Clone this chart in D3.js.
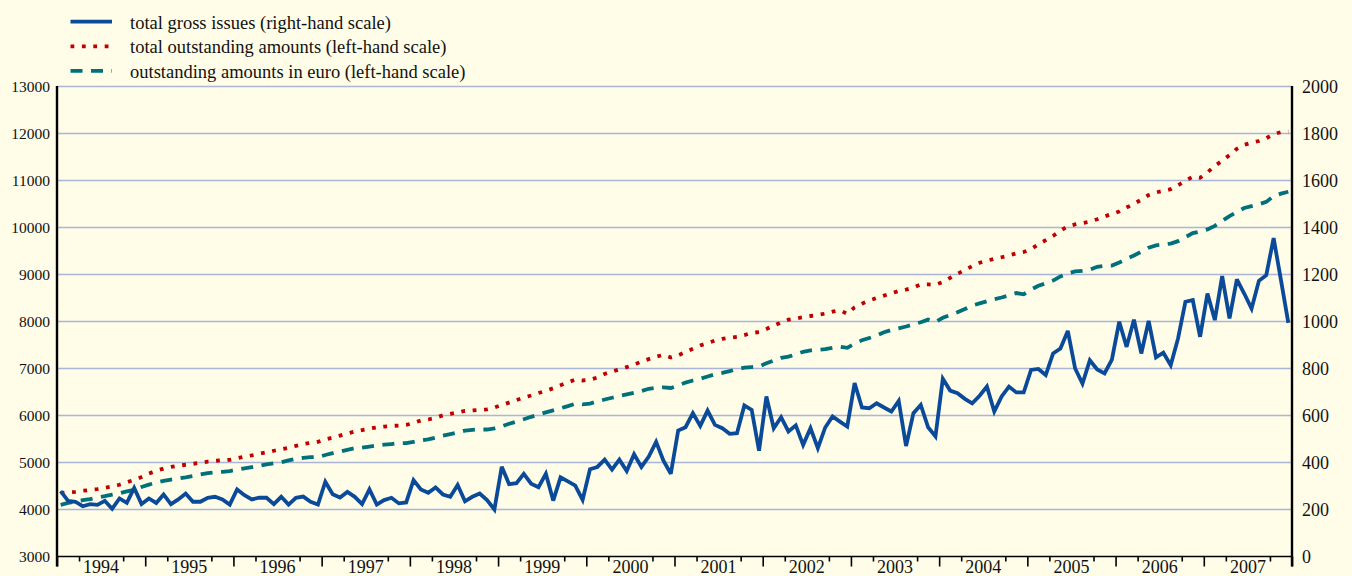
<!DOCTYPE html>
<html>
<head>
<meta charset="utf-8">
<script src="https://cdn.jsdelivr.net/npm/d3@7"></script>
<style>
  html, body { margin: 0; padding: 0; background: #FFFDE8; }
  svg { display: block; }
  text { font-family: "Liberation Serif", "Times New Roman", serif; fill: #111; }
</style>
</head>
<body>
<svg id="chart" width="1352" height="576"></svg>
<script>
// Year labels along the time axis (monthly observations, Jan 1994 - Dec 2007)
const years = [1994, 1995, 1996, 1997, 1998, 1999, 2000, 2001, 2002, 2003, 2004, 2005, 2006, 2007];
const leftTicks = [3000, 4000, 5000, 6000, 7000, 8000, 9000, 10000, 11000, 12000, 13000];
const rightTicks = [0, 200, 400, 600, 800, 1000, 1200, 1400, 1600, 1800, 2000];

// total gross issues (right-hand scale), one value per month
const grossIssues = [
  278, 237, 233, 214, 223, 220, 237, 203, 247, 228, 292, 223,
  247, 228, 264, 223, 243, 268, 233, 233, 250, 254, 243, 221,
  285, 261, 243, 250, 250, 223, 254, 221, 250, 255, 233, 221,
  318, 265, 251, 275, 254, 223, 286, 221, 240, 250, 226, 230,
  325, 285, 271, 294, 264, 254, 304, 235, 254, 268, 240, 200,
  382, 308, 312, 352, 310, 295, 352, 238, 337, 320, 302, 241,
  371, 381, 412, 370, 412, 364, 435, 381, 425, 488, 408, 352,
  536, 550, 610, 556, 621, 560, 546, 522, 525, 643, 624, 450,
  681, 546, 593, 532, 558, 475, 546, 461, 549, 596, 574, 553,
  738, 634, 631, 652, 634, 617, 662, 470, 610, 645, 550, 511,
  756, 706, 695, 671, 652, 684, 723, 617, 681, 723, 698, 698,
  794, 798, 772, 864, 885, 960, 800, 736, 835, 796, 779, 838,
  999, 892, 1008, 864, 1003, 847, 867, 814, 928, 1084, 1091, 935,
  1119, 1006, 1193, 1013, 1179, 1119, 1055, 1173, 1197, 1355, 1176, 994
];

// total outstanding amounts (left-hand scale)
const totalOutstanding = [
  4350, 4365, 4375, 4398, 4415, 4433, 4462, 4490, 4527, 4580, 4628, 4690,
  4765, 4825, 4870, 4905, 4930, 4952, 4972, 4995, 5021, 5036, 5047, 5057,
  5090, 5125, 5152, 5185, 5216, 5250, 5280, 5312, 5355, 5392, 5420, 5440,
  5490, 5530, 5573, 5618, 5658, 5690, 5720, 5747, 5765, 5778, 5787, 5800,
  5840, 5894, 5915, 5950, 6005, 6035, 6065, 6098, 6108, 6120, 6132, 6170,
  6225, 6275, 6328, 6380, 6425, 6478, 6525, 6580, 6645, 6705, 6762, 6745,
  6762, 6809, 6885, 6935, 6980, 7030, 7080, 7150, 7200, 7250, 7290, 7235,
  7280, 7350, 7420, 7490, 7540, 7595, 7630, 7655, 7672, 7710, 7758, 7775,
  7840, 7915, 7980, 8040, 8065, 8093, 8117, 8140, 8168, 8210, 8240, 8163,
  8300, 8380, 8445, 8500, 8550, 8600, 8650, 8680, 8720, 8787, 8790, 8780,
  8840, 8930, 9015, 9095, 9180, 9250, 9295, 9334, 9367, 9405, 9450, 9478,
  9540, 9640, 9730, 9820, 9930, 10025, 10065, 10095, 10125, 10175, 10235, 10290,
  10340, 10425, 10505, 10590, 10690, 10745, 10780, 10815, 10900, 10995, 11080, 11060,
  11170, 11310, 11420, 11540, 11675, 11760, 11805, 11840, 11900, 11985, 12030, 12045
];

// outstanding amounts in euro (left-hand scale)
const euroOutstanding = [
  4100, 4140, 4170, 4197, 4222, 4255, 4283, 4315, 4345, 4385, 4420, 4480,
  4530, 4570, 4610, 4638, 4660, 4685, 4715, 4745, 4775, 4792, 4800, 4818,
  4848, 4873, 4900, 4930, 4960, 4985, 5005, 5045, 5080, 5100, 5113, 5113,
  5160, 5198, 5230, 5270, 5305, 5315, 5340, 5362, 5378, 5393, 5411, 5411,
  5440, 5468, 5492, 5530, 5572, 5605, 5638, 5678, 5695, 5702, 5702, 5725,
  5770, 5825, 5870, 5920, 5972, 6020, 6065, 6110, 6155, 6200, 6250, 6235,
  6255, 6298, 6340, 6378, 6418, 6450, 6482, 6520, 6568, 6590, 6598, 6585,
  6640, 6700, 6745, 6780, 6830, 6875, 6908, 6945, 6985, 7018, 7030, 7045,
  7110, 7170, 7225, 7252, 7300, 7355, 7384, 7398, 7412, 7442, 7465, 7440,
  7530, 7600, 7650, 7700, 7770, 7820, 7855, 7894, 7940, 7985, 8040, 7990,
  8080, 8135, 8195, 8265, 8340, 8385, 8430, 8475, 8510, 8555, 8605, 8578,
  8680, 8760, 8810, 8870, 8960, 9025, 9065, 9078, 9100, 9165, 9185, 9190,
  9255, 9330, 9405, 9485, 9570, 9620, 9638, 9658, 9710, 9794, 9880, 9915,
  9960, 10035, 10140, 10240, 10330, 10415, 10455, 10495, 10545, 10670, 10720, 10760
];

const legendItems = [
  { label: "total gross issues (right-hand scale)", color: "#0A4A99", width: 3.8, dash: null },
  { label: "total outstanding amounts (left-hand scale)", color: "#C00000", width: 3.8, dash: "3.8,7.6" },
  { label: "outstanding amounts in euro (left-hand scale)", color: "#00707A", width: 3.8, dash: "12,8.5" }
];

const svg = d3.select("#chart");
const W = 1352, H = 576;
const plotLeft = 57, plotRight = 1292, plotTop = 86.5, plotBottom = 556.5;

svg.append("rect").attr("width", W).attr("height", H).attr("fill", "#FFFDE8");

const nMonths = years.length * 12;
const x = d3.scaleLinear().domain([0, nMonths]).range([plotLeft, plotRight]);
const yL = d3.scaleLinear().domain([3000, 13000]).range([plotBottom, plotTop]);
const yR = d3.scaleLinear().domain([0, 2000]).range([plotBottom, plotTop]);

// horizontal grid lines
svg.append("g")
  .selectAll("line")
  .data(leftTicks.slice(1))
  .join("line")
  .attr("x1", plotLeft).attr("x2", plotRight)
  .attr("y1", d => yL(d)).attr("y2", d => yL(d))
  .attr("stroke", "#AAB5D8").attr("stroke-width", 1.3);

// left axis labels
const axL = svg.append("g")
  .attr("transform", `translate(${plotLeft},0)`)
  .call(d3.axisLeft(yL).tickValues(leftTicks).tickSize(0).tickPadding(7).tickFormat(d3.format("d")));
axL.select(".domain").remove();
axL.selectAll("text").attr("font-size", 15.5).attr("font-family", "Liberation Serif").attr("fill", "#111");

// right axis labels
const axR = svg.append("g")
  .attr("transform", `translate(${plotRight},0)`)
  .call(d3.axisRight(yR).tickValues(rightTicks).tickSize(0).tickPadding(10).tickFormat(d3.format("d")));
axR.select(".domain").remove();
axR.selectAll("text").attr("font-size", 18).attr("font-family", "Liberation Serif").attr("fill", "#111");

// bottom axis: long ticks at year boundaries, short ticks at quarters
const yearBounds = d3.range(0, nMonths + 1, 12);
const quarterTicks = yearBounds.slice(0, -1).flatMap(m => [m + 3, m + 9]);
const axB = svg.append("g").attr("transform", `translate(0,${plotBottom})`);
axB.call(d3.axisBottom(x).tickValues(yearBounds).tickSize(10).tickFormat(""));
axB.selectAll(".tick line").attr("stroke", "#000").attr("stroke-width", 1.6);
axB.select(".domain").remove();
const axQ = svg.append("g").attr("transform", `translate(0,${plotBottom})`);
axQ.call(d3.axisBottom(x).tickValues(quarterTicks).tickSize(5).tickFormat(""));
axQ.selectAll(".tick line").attr("stroke", "#000").attr("stroke-width", 1.6);
axQ.select(".domain").remove();

// year labels centred in each year
svg.append("g")
  .selectAll("text")
  .data(years)
  .join("text")
  .attr("x", (d, i) => x(i * 12 + 6))
  .attr("y", 572.5)
  .attr("text-anchor", "middle")
  .attr("font-size", 18)
  .text(d => d);

// axis lines
svg.append("line").attr("x1", plotLeft - 1).attr("x2", plotRight + 1).attr("y1", plotBottom).attr("y2", plotBottom)
  .attr("stroke", "#000").attr("stroke-width", 1.6);
svg.append("line").attr("x1", plotLeft).attr("x2", plotLeft).attr("y1", plotTop - 0.5).attr("y2", plotBottom + 10)
  .attr("stroke", "#000").attr("stroke-width", 2.4);
svg.append("line").attr("x1", plotRight).attr("x2", plotRight).attr("y1", plotTop - 0.5).attr("y2", plotBottom + 10)
  .attr("stroke", "#000").attr("stroke-width", 2.4);

// series
const lineL = d3.line().x((d, i) => x(i + 0.5)).y(d => yL(d));
const lineR = d3.line().x((d, i) => x(i + 0.5)).y(d => yR(d));

svg.append("path").datum(euroOutstanding)
  .attr("d", lineL).attr("fill", "none")
  .attr("stroke", legendItems[2].color).attr("stroke-width", legendItems[2].width)
  .attr("stroke-dasharray", legendItems[2].dash);

svg.append("path").datum(totalOutstanding)
  .attr("d", lineL).attr("fill", "none")
  .attr("stroke", legendItems[1].color).attr("stroke-width", legendItems[1].width)
  .attr("stroke-dasharray", legendItems[1].dash);

svg.append("path").datum(grossIssues)
  .attr("d", lineR).attr("fill", "none")
  .attr("stroke", legendItems[0].color).attr("stroke-width", legendItems[0].width)
  .attr("stroke-linejoin", "miter").attr("stroke-miterlimit", 3);

// legend
const lg = svg.append("g");
legendItems.forEach((it, k) => {
  const yy = 21.7 + k * 24.6;
  lg.append("line")
    .attr("x1", 70.5).attr("x2", 112).attr("y1", yy).attr("y2", yy)
    .attr("stroke", it.color).attr("stroke-width", it.width)
    .attr("stroke-dasharray", it.dash);
  lg.append("text")
    .attr("x", 130).attr("y", yy + 6.8)
    .attr("font-size", 18.5)
    .text(it.label);
});
</script>
</body>
</html>
